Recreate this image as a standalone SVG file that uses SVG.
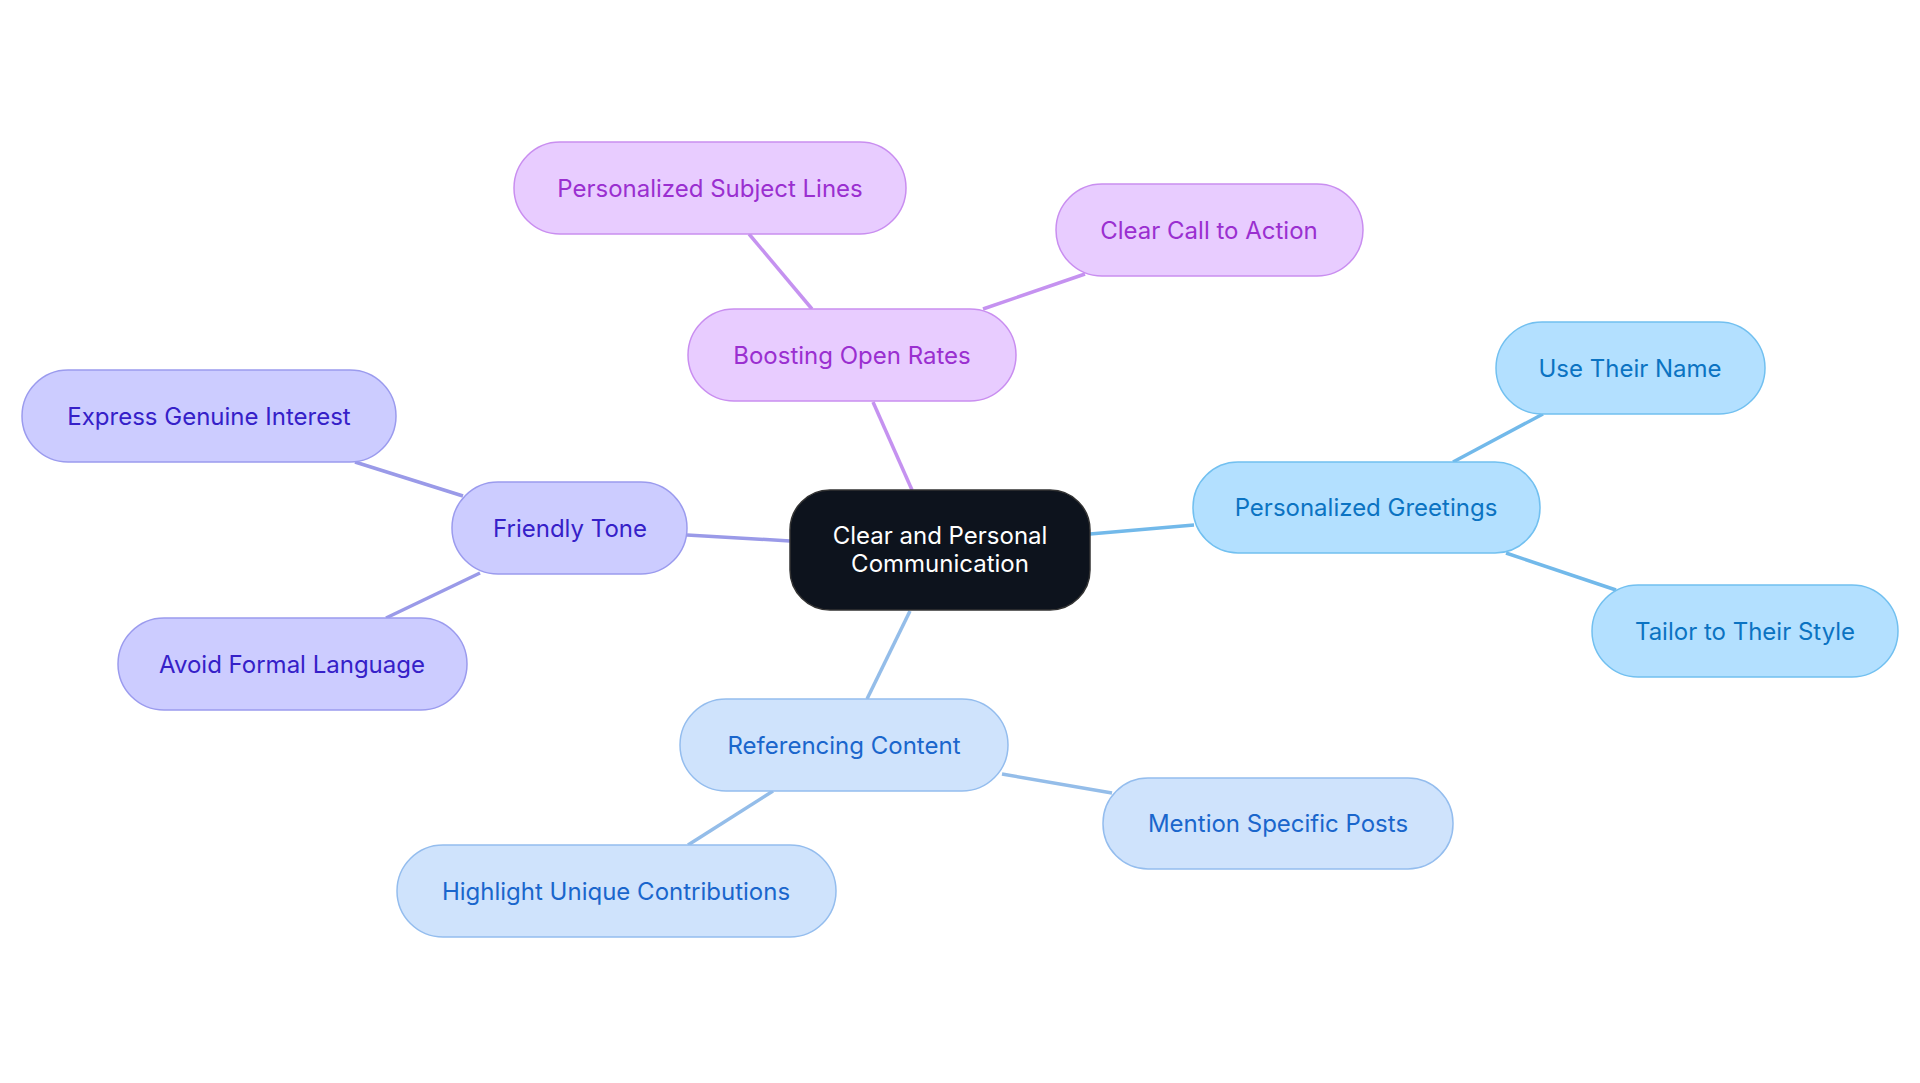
<svg xmlns="http://www.w3.org/2000/svg" width="1920" height="1083" viewBox="0 0 1920 1083">
<style>
text{font-family:Inter,"Noto Sans",sans-serif;font-size:24px;text-anchor:middle;dominant-baseline:central}
.p rect{fill:#e8ccff;stroke:#c98ef0;stroke-width:1.5}.p text{fill:#9a2fd0}
.b rect{fill:#b3e0ff;stroke:#72c0f0;stroke-width:1.5}.b text{fill:#0b73c2}
.v rect{fill:#ccccff;stroke:#9b9bee;stroke-width:1.5}.v text{fill:#3520c8}
.l rect{fill:#cfe3fc;stroke:#94bdee;stroke-width:1.5}.l text{fill:#1a66cc}
#edges line{stroke-width:3.5}
</style>
<rect width="1920" height="1083" fill="#fff"/>
<g id="edges">
<line x1="912" y1="490" x2="873" y2="402" stroke="#c592f0"/>
<line x1="812" y1="309" x2="749" y2="234" stroke="#c592f0"/>
<line x1="983" y1="309" x2="1085" y2="274" stroke="#c592f0"/>
<line x1="1090" y1="534" x2="1194" y2="525" stroke="#72b9ea"/>
<line x1="1453" y1="462" x2="1543" y2="414" stroke="#72b9ea"/>
<line x1="1506" y1="553" x2="1616" y2="590" stroke="#72b9ea"/>
<line x1="790" y1="541" x2="687" y2="535" stroke="#9a9ae8"/>
<line x1="463" y1="496" x2="355" y2="462" stroke="#9a9ae8"/>
<line x1="480" y1="573" x2="386" y2="618" stroke="#9a9ae8"/>
<line x1="910" y1="611" x2="867" y2="699" stroke="#94bde9"/>
<line x1="1002" y1="774" x2="1112" y2="793" stroke="#94bde9"/>
<line x1="773" y1="791" x2="688" y2="845" stroke="#94bde9"/>
</g>
<g id="center"><rect x="790" y="490" width="300" height="120" rx="40" fill="#0d131d" stroke="#333" stroke-width="1.5"/><text x="940" y="535" fill="#fff">Clear and Personal</text><text x="940" y="563" fill="#fff">Communication</text></g>
<g id="boost" class="p"><rect x="688" y="309" width="328" height="92" rx="46"/><text x="852" y="355">Boosting Open Rates</text></g>
<g id="subject" class="p"><rect x="514" y="142" width="392" height="92" rx="46"/><text x="710" y="188">Personalized Subject Lines</text></g>
<g id="cta" class="p"><rect x="1056" y="184" width="307" height="92" rx="46"/><text x="1209" y="230">Clear Call to Action</text></g>
<g id="greet" class="b"><rect x="1193" y="462" width="347" height="91" rx="45"/><text x="1366" y="507">Personalized Greetings</text></g>
<g id="name" class="b"><rect x="1496" y="322" width="269" height="92" rx="46"/><text x="1630" y="368">Use Their Name</text></g>
<g id="tailor" class="b"><rect x="1592" y="585" width="306" height="92" rx="46"/><text x="1745" y="631">Tailor to Their Style</text></g>
<g id="friendly" class="v"><rect x="452" y="482" width="235" height="92" rx="46"/><text x="570" y="528">Friendly Tone</text></g>
<g id="express" class="v"><rect x="22" y="370" width="374" height="92" rx="46"/><text x="209" y="416">Express Genuine Interest</text></g>
<g id="avoid" class="v"><rect x="118" y="618" width="349" height="92" rx="46"/><text x="292" y="664">Avoid Formal Language</text></g>
<g id="ref" class="l"><rect x="680" y="699" width="328" height="92" rx="46"/><text x="844" y="745">Referencing Content</text></g>
<g id="mention" class="l"><rect x="1103" y="778" width="350" height="91" rx="45"/><text x="1278" y="823">Mention Specific Posts</text></g>
<g id="highlight" class="l"><rect x="397" y="845" width="439" height="92" rx="46"/><text x="616" y="891">Highlight Unique Contributions</text></g>
</svg>
